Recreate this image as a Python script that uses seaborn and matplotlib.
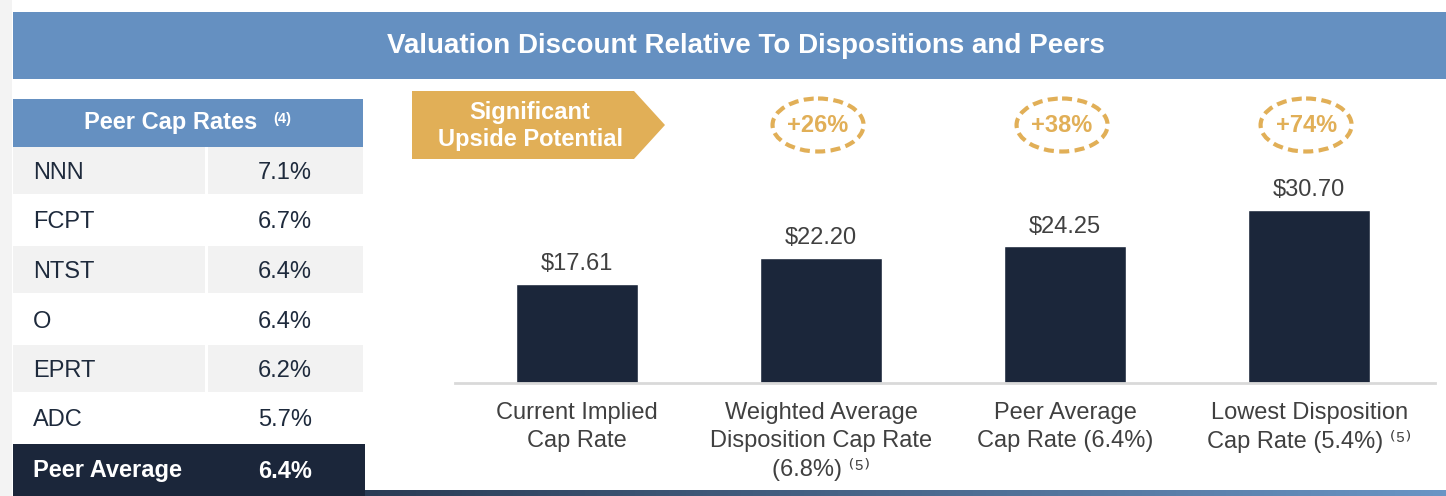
import numpy as np
import pandas as pd
import seaborn as sns
import matplotlib.pyplot as plt
from matplotlib.patches import Rectangle, Polygon, Ellipse
from matplotlib.colors import LinearSegmentedColormap

sns.set_theme(style="white")
plt.rcParams['font.family'] = ['Liberation Sans', 'DejaVu Sans']

# data
title = "Valuation Discount Relative To Dispositions and Peers"
peers = ["NNN", "FCPT", "NTST", "O", "EPRT", "ADC"]
peer_rates = [7.1, 6.7, 6.4, 6.4, 6.2, 5.7]
peer_avg = 6.4
categories = ["Current Implied\nCap Rate",
              "Weighted Average\nDisposition Cap Rate\n(6.8%) \u207d\u2075\u207e",
              "Peer Average\nCap Rate (6.4%)",
              "Lowest Disposition\nCap Rate (5.4%) \u207d\u2075\u207e"]
prices = [17.61, 22.20, 24.25, 30.70]
upside = ["+26%", "+38%", "+74%"]

# colours
blue = "#6590C1"
navy = "#1B263A"
gold = "#E1AF57"
grey_cell = "#F2F2F2"
txt_dark = "#1E2A3C"
txt_grey = "#404040"

W, H = 1446, 496
fig = plt.figure(figsize=(W / 100, H / 100), dpi=100)

# decoration layer in pixel coordinates
deco = fig.add_axes([0, 0, 1, 1])
deco.axis('off')

# bar chart
ax = fig.add_axes([455 / W, (H - 383) / H, 980 / W, 213 / H])
ax.patch.set_alpha(0)
df = pd.DataFrame({"category": categories, "price": prices})
sns.barplot(data=df, x="category", y="price", color=navy, saturation=1,
            width=0.5, ax=ax)
ax.set_xlim(-0.5, 3.516)
ax.set_ylim(0, 37.7)
ax.bar_label(ax.containers[0], labels=[f"${v:.2f}" for v in prices],
             padding=6, fontsize=17, color=txt_grey)
for s in ["left", "top", "right"]:
    ax.spines[s].set_visible(False)
ax.spines["bottom"].set_color("#D9D9D9")
ax.spines["bottom"].set_linewidth(2)
ax.set_yticks([])
ax.set_xlabel("")
ax.set_ylabel("")
ax.tick_params(axis='x', length=0, pad=13.5, labelsize=17, labelcolor=txt_grey)
for lab in ax.get_xticklabels():
    lab.set_linespacing(1.34)

# left shadow strip
deco.add_patch(Rectangle((0, 0), 12, H, color="#F3F3F3", lw=0))

# title band
deco.add_patch(Rectangle((13, 12), W - 13, 67, color=blue, lw=0))
deco.text(746, 46, title, ha="center", va="center", color="white",
          fontsize=20, fontweight="bold")

# peer table
deco.add_patch(Rectangle((13, 99), 350, 48, color=blue, lw=0))
deco.text(171, 123, "Peer Cap Rates", ha="center", va="center", color="white",
          fontsize=17, fontweight="bold")
deco.text(273, 119, "(4)", ha="left", va="center", color="white",
          fontsize=10.5, fontweight="bold")
for i, (name, rate) in enumerate(zip(peers, peer_rates)):
    top = 147 + 49.5 * i
    if i % 2 == 0:
        deco.add_patch(Rectangle((13, top), 192, 47, color=grey_cell, lw=0))
        deco.add_patch(Rectangle((208, top), 155, 47, color=grey_cell, lw=0))
    deco.text(33, top + 26, name, ha="left", va="center", color=txt_dark,
              fontsize=17)
    deco.text(312, top + 26, f"{rate:.1f}%", ha="right", va="center",
              color=txt_dark, fontsize=17)
deco.add_patch(Rectangle((13, 444), 352, 52, color=navy, lw=0))
deco.text(33, 471, "Peer Average", ha="left", va="center", color="white",
          fontsize=17, fontweight="bold")
deco.text(312, 471, f"{peer_avg:.1f}%", ha="right", va="center", color="white",
          fontsize=17, fontweight="bold")

# upside banner
deco.add_patch(Polygon([(412, 91), (634, 91), (665, 125), (634, 159), (412, 159)],
                       closed=True, color=gold, lw=0))
deco.text(530, 126, "Significant\nUpside Potential", ha="center", va="center",
          color="white", fontsize=17, fontweight="bold", linespacing=1.17)

# dashed ellipses above bars
for i, lab in enumerate(upside, start=1):
    cx = ax.transData.transform((i, 0))[0] - 3
    deco.add_patch(Ellipse((cx, 125), 91, 53, fill=False, edgecolor=gold,
                           lw=3, linestyle=(0, (2.4, 1.3))))
    deco.text(cx, 126, lab, ha="center", va="center", color=gold,
              fontsize=17, fontweight="bold")

# bottom gradient band
cmap = LinearSegmentedColormap.from_list("band", ["#2A3C55", "#6A95C5"])
deco.imshow(np.linspace(0, 1, 256)[None, :], cmap=cmap, aspect="auto",
            extent=(365, W, 496, 490))
deco.set_xlim(0, W)
deco.set_ylim(H, 0)

fig.savefig("out.png", dpi=100)
